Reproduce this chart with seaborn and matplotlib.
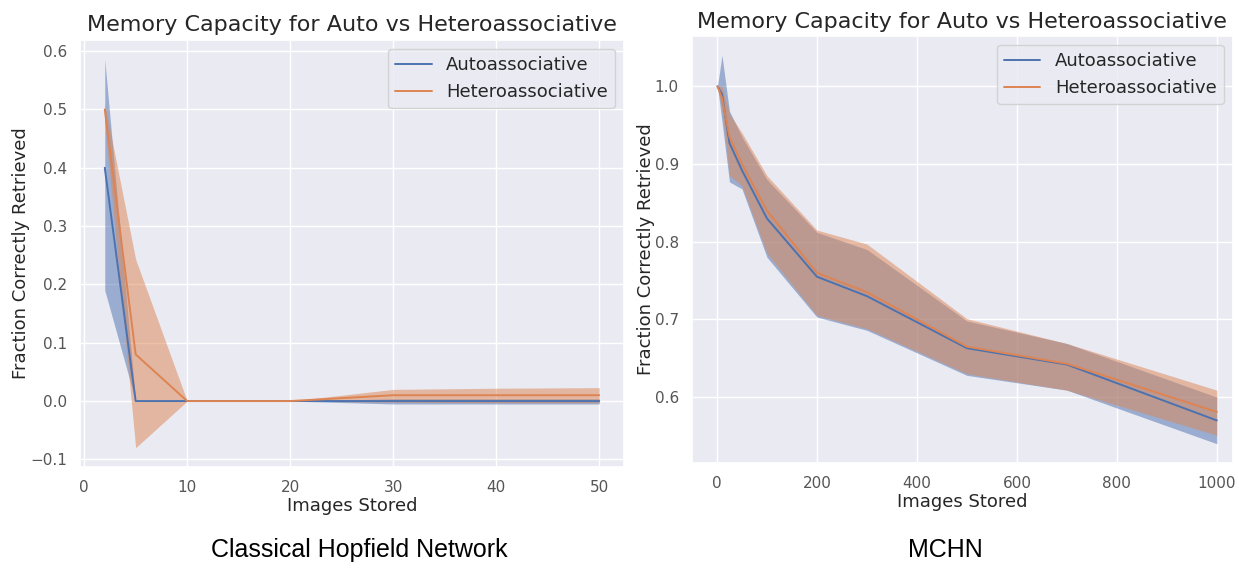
import numpy as np
import seaborn as sns
import matplotlib
matplotlib.use("Agg")
import matplotlib.pyplot as plt

# Classical Hopfield network
x_chn = [2, 5, 10, 20, 30, 40, 50]
auto_chn_mean = [0.40, 0.0, 0.0, 0.0, 0.0, 0.0, 0.0]
auto_chn_lo = [0.19, 0.0, 0.0, 0.0, -0.005, -0.005, -0.005]
auto_chn_hi = [0.586, 0.0, 0.0, 0.0, 0.004, 0.004, 0.004]
hetero_chn_mean = [0.50, 0.08, 0.0, 0.0, 0.01, 0.01, 0.01]
hetero_chn_lo = [0.48, -0.08, 0.0, 0.0, -0.002, -0.003, -0.003]
hetero_chn_hi = [0.51, 0.243, 0.0, 0.0, 0.02, 0.022, 0.023]

# MCHN
x_mchn = [1, 10, 25, 50, 100, 200, 300, 500, 700, 1000]
auto_mchn_mean = [1.0, 0.99, 0.927, 0.892, 0.83, 0.755, 0.73, 0.663, 0.642, 0.570]
auto_mchn_lo = [1.0, 0.955, 0.877, 0.868, 0.78, 0.703, 0.686, 0.628, 0.609, 0.540]
auto_mchn_hi = [1.0, 1.04, 0.968, 0.935, 0.88, 0.812, 0.79, 0.698, 0.669, 0.600]
hetero_mchn_mean = [1.0, 0.985, 0.935, 0.90, 0.84, 0.76, 0.735, 0.665, 0.643, 0.581]
hetero_mchn_lo = [1.0, 0.97, 0.885, 0.872, 0.785, 0.705, 0.688, 0.630, 0.609, 0.551]
hetero_mchn_hi = [1.0, 1.0, 0.965, 0.94, 0.885, 0.815, 0.797, 0.701, 0.669, 0.609]

labels = ["Autoassociative", "Heteroassociative"]
captions = ["Classical Hopfield Network", "MCHN"]

sns.set_theme(style="darkgrid")
colors = sns.color_palette("deep")

fig = plt.figure(figsize=(12.39, 5.69), dpi=100)
ax1 = fig.add_axes([0.0646, 0.179, 0.439, 0.751])
ax2 = fig.add_axes([0.5585, 0.186, 0.4365, 0.751])

panels = [
    (ax1, x_chn, [(auto_chn_mean, auto_chn_lo, auto_chn_hi),
                  (hetero_chn_mean, hetero_chn_lo, hetero_chn_hi)]),
    (ax2, x_mchn, [(auto_mchn_mean, auto_mchn_lo, auto_mchn_hi),
                   (hetero_mchn_mean, hetero_mchn_lo, hetero_mchn_hi)]),
]

for ax, x, series in panels:
    for i, (mean, lo, hi) in enumerate(series):
        sns.lineplot(x=x, y=mean, ax=ax, color=colors[i], label=labels[i], linewidth=1.4)
        ax.fill_between(x, lo, hi, color=colors[i], alpha=0.5, linewidth=0)
    ax.set_title("Memory Capacity for Auto vs Heteroassociative", fontsize=16)
    ax.set_xlabel("Images Stored", fontsize=13, labelpad=1)
    ax.set_ylabel("Fraction Correctly Retrieved", fontsize=13, labelpad=0)
    ax.tick_params(labelsize=11, colors="#555555")
    ax.legend(loc="upper right", fontsize=13)

ax1.set_yticks(np.arange(-0.1, 0.61, 0.1))
ax2.set_xlim(-50, 1032)
ax2.set_ylim(0.515, 1.065)

fig.text(0.29, 0.033, captions[0], ha="center", va="center",
         fontsize=18, family="Liberation Sans", color="black")
fig.text(0.763, 0.033, captions[1], ha="center", va="center",
         fontsize=18, family="Liberation Sans", color="black")

fig.savefig("out.png", dpi=100)
